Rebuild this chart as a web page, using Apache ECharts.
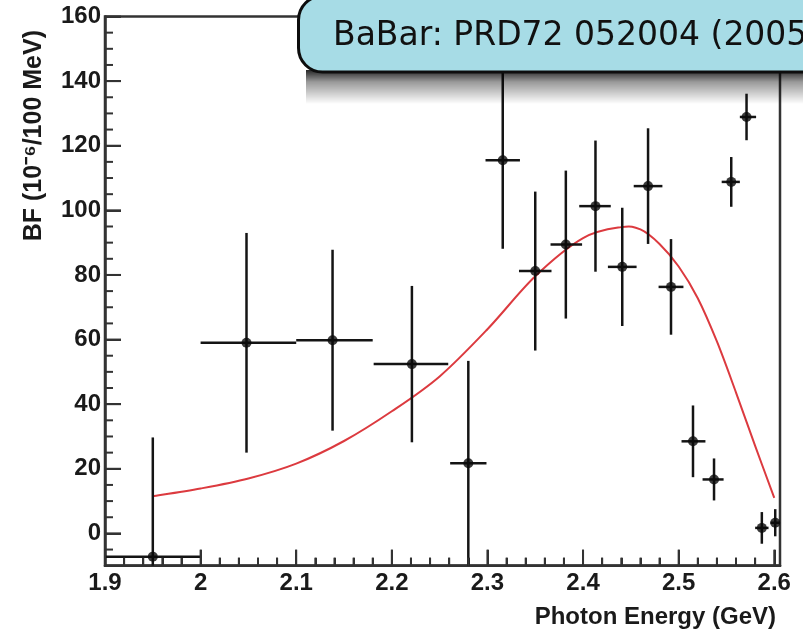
<!DOCTYPE html>
<html>
<head>
<meta charset="utf-8">
<script src="https://cdn.jsdelivr.net/npm/echarts@6/dist/echarts.min.js"></script>
<style>
  html, body { margin: 0; padding: 0; background: #ffffff; }
  #chart { width: 803px; height: 629px; }
</style>
</head>
<body>
<div id="chart"></div>
<script>
// Axis tick values
const xTicks = [1.9, 2.0, 2.1, 2.2, 2.3, 2.4, 2.5, 2.6];
const yTicks = [0, 20, 40, 60, 80, 100, 120, 140, 160];
const yMinorTicks = [-5, 5, 10, 15, 25, 30, 35, 45, 50, 55, 65, 70, 75, 85, 90, 95, 105, 110, 115, 125, 130, 135, 145, 150, 155];

// Measured branching fraction per photon-energy bin
const energy = [1.95, 2.048, 2.138, 2.221, 2.28, 2.316, 2.35, 2.382, 2.413, 2.441, 2.468, 2.492, 2.515, 2.537, 2.555, 2.571, 2.587, 2.601];
const bf     = [-7.2, 59.0, 59.8, 52.4, 21.7, 115.5, 81.2, 89.4, 101.3, 82.5, 107.5, 76.3, 28.5, 16.7, 108.8, 128.9, 1.7, 3.3];
const binLo  = [1.9, 2.0, 2.1, 2.181, 2.261, 2.298, 2.333, 2.366, 2.396, 2.426, 2.453, 2.479, 2.503, 2.525, 2.545, 2.564, 2.580, 2.596];
const binHi  = [2.0, 2.1, 2.18, 2.259, 2.299, 2.334, 2.367, 2.399, 2.429, 2.456, 2.483, 2.505, 2.528, 2.547, 2.564, 2.581, 2.594, 2.606];
const bfErr  = [36.9, 34.0, 28.0, 24.2, 31.7, 27.4, 24.6, 22.9, 20.3, 18.3, 17.9, 14.8, 11.1, 6.5, 7.7, 7.2, 4.9, 4.2];

// Model spectrum
const fitEnergy = [1.95, 2.0, 2.05, 2.1, 2.15, 2.2, 2.25, 2.3, 2.35, 2.4, 2.44, 2.46, 2.48, 2.5, 2.52, 2.54, 2.56, 2.58, 2.60];
const fitBF     = [11.5, 13.9, 17.0, 21.6, 28.6, 37.8, 48.6, 63.2, 79.6, 91.4, 94.8, 94.1, 89.6, 82.6, 72.8, 59.4, 43.6, 27.1, 11.0];

const X_MIN = 1.9, X_MAX = 2.606, Y_MIN = -10, Y_MAX = 160;

const AXIS = '#333333';

const chart = echarts.init(document.getElementById('chart'), null, { renderer: 'canvas' });

const points = energy.map((e, i) => [e, bf[i], binLo[i], binHi[i], bfErr[i]]);

chart.setOption({
  animation: false,
  grid: { left: 105, right: 23, top: 16.5, bottom: 63.3, show: true, borderColor: AXIS, borderWidth: 2.5 },
  xAxis: {
    type: 'value', min: X_MIN, max: X_MAX, interval: 0.1,
    axisLine: { show: true, onZero: false, lineStyle: { color: AXIS, width: 2.5 } },
    axisTick: { show: true, inside: true, length: 16, lineStyle: { color: AXIS, width: 2 } },
    minorTick: { show: true, splitNumber: 5, length: 8, lineStyle: { color: AXIS, width: 2 } },
    axisLabel: {
      showMaxLabel: false, margin: 6, fontSize: 24, fontWeight: 'bold', fontFamily: 'Liberation Sans', color: '#1a1a1a',
      formatter: v => (Math.round(v * 10) / 10).toString()
    },
    splitLine: { show: false }
  },
  yAxis: {
    type: 'value', min: Y_MIN, max: Y_MAX,
    axisLine: { show: true, onZero: false, lineStyle: { color: AXIS, width: 2.5 } },
    axisTick: { show: true, inside: true, length: 16, customValues: yTicks, lineStyle: { color: AXIS, width: 2 } },
    axisLabel: { customValues: yTicks, margin: 4, fontSize: 24, fontWeight: 'bold', fontFamily: 'Liberation Sans', color: '#1a1a1a' },
    splitLine: { show: false }
  },
  series: [
    {
      // model curve: Catmull-Rom spline through the sampled points
      type: 'custom', clip: false, silent: true,
      data: [[fitEnergy[0], fitBF[0]]],
      encode: { x: 0, y: 1 },
      renderItem: function (params, api) {
        const pts = fitEnergy.map((e, i) => api.coord([e, fitBF[i]]));
        let d = 'M' + pts[0][0] + ' ' + pts[0][1];
        for (let i = 0; i < pts.length - 1; i++) {
          const p0 = pts[Math.max(i - 1, 0)], p1 = pts[i], p2 = pts[i + 1], p3 = pts[Math.min(i + 2, pts.length - 1)];
          const c1 = [p1[0] + (p2[0] - p0[0]) / 6, p1[1] + (p2[1] - p0[1]) / 6];
          const c2 = [p2[0] - (p3[0] - p1[0]) / 6, p2[1] - (p3[1] - p1[1]) / 6];
          d += ' C' + c1[0] + ' ' + c1[1] + ' ' + c2[0] + ' ' + c2[1] + ' ' + p2[0] + ' ' + p2[1];
        }
        return { type: 'path', shape: { pathData: d }, style: { stroke: '#dc3a3f', fill: null, lineWidth: 2 } };
      },
      z: 3
    },
    {
      // error bars, cut at the bottom of the frame
      type: 'custom', clip: false,
      data: points,
      encode: { x: 0, y: 1 },
      renderItem: function (params, api) {
        const x = api.value(0), y = api.value(1), lo = api.value(2), hi = api.value(3), err = api.value(4);
        const l = api.coord([lo, y]), r = api.coord([hi, y]);
        const t = api.coord([x, Math.min(y + err, Y_MAX)]), b = api.coord([x, Math.max(y - err, Y_MIN)]);
        return {
          type: 'group',
          children: [
            { type: 'line', shape: { x1: l[0], y1: l[1], x2: r[0], y2: r[1] }, style: { stroke: '#141414', lineWidth: 2.5 } },
            { type: 'line', shape: { x1: t[0], y1: t[1], x2: b[0], y2: b[1] }, style: { stroke: '#141414', lineWidth: 2.5 } }
          ]
        };
      },
      z: 4
    },
    {
      type: 'scatter',
      data: energy.map((e, i) => [e, bf[i]]),
      symbol: 'circle', symbolSize: 10,
      itemStyle: { color: '#0a0a0a' }, z: 5
    }
  ]
});

// Inward ticks along both edges, placed through the axis scales
const tickLines = [];
function addTick(x, y, dx, dy) {
  const p = chart.convertToPixel({ gridIndex: 0 }, [x, y]);
  tickLines.push({
    type: 'line', z: 30, silent: true,
    shape: { x1: p[0], y1: p[1], x2: p[0] + dx, y2: p[1] + dy },
    style: { stroke: AXIS, lineWidth: 2 }
  });
}
yMinorTicks.forEach(v => addTick(X_MIN, v, 8, 0));
yTicks.forEach(v => addTick(X_MIN, v, 16, 0));
xTicks.forEach(v => addTick(v, Y_MIN, 0, -16));
for (let k = 1; k < 35; k++) {
  if (k % 5 !== 0) addTick(X_MIN + k * 0.02, Y_MIN, 0, -8);
}

chart.setOption({
  graphic: [
    {
      type: 'text', x: 776, y: 617, z: 50,
      style: { text: 'Photon Energy (GeV)', align: 'right', verticalAlign: 'middle', font: 'bold 24px "Liberation Sans"', fill: '#1a1a1a' }
    },
    {
      type: 'text', x: 34, y: 30, rotation: Math.PI / 2, z: 50,
      style: { text: 'BF (10\u207B\u2076/100 MeV)', align: 'right', verticalAlign: 'middle', font: 'bold 25px "Liberation Sans"', fill: '#1a1a1a' }
    },
    {
      // soft drop shadow under the citation banner
      type: 'rect', z: 99, silent: true,
      shape: { x: 306, y: 70, width: 497, height: 34 },
      style: {
        fill: new echarts.graphic.LinearGradient(0, 0, 0, 1, [
          { offset: 0, color: 'rgba(0,0,0,0.85)' },
          { offset: 0.35, color: 'rgba(0,0,0,0.4)' },
          { offset: 1, color: 'rgba(0,0,0,0)' }
        ])
      }
    },
    {
      type: 'rect', z: 100,
      shape: { x: 298.5, y: -4, width: 560, height: 76, r: 24 },
      style: { fill: '#a7dce6', stroke: '#0d0d0d', lineWidth: 3 }
    },
    {
      type: 'text', x: 333, y: 36, z: 101,
      style: { text: 'BaBar: PRD72 052004 (2005)', align: 'left', verticalAlign: 'middle', font: '33px "DejaVu Sans"', fill: '#111111' }
    }
  ].concat(tickLines)
});
</script>
</body>
</html>
